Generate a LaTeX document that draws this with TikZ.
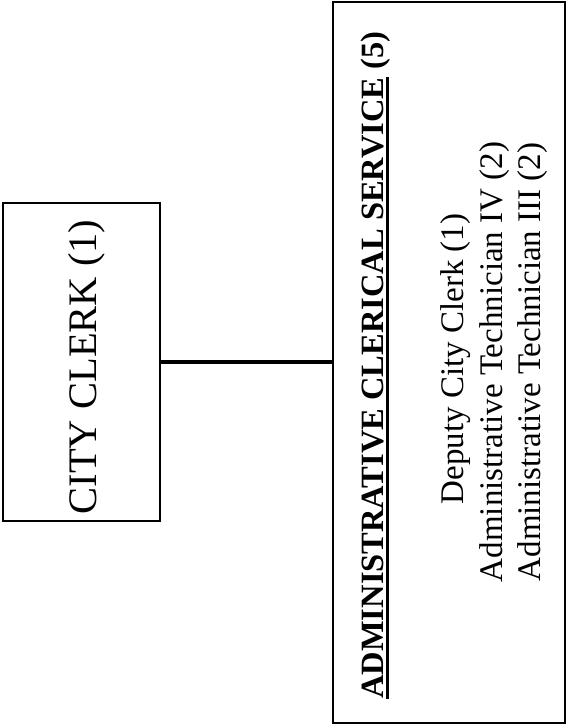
\documentclass[tikz,border=0pt]{standalone}
\usepackage{fontspec}
\setmainfont{Liberation Serif}
% heavy underline that sits a little below the baseline
\newcommand\heavyul[1]{\setbox0\hbox{#1}\rlap{\rule[-6pt]{\wd0}{2.8pt}}\box0\relax}
\tikzset{
  orgbox/.style={draw, line width=2.2pt, inner sep=0pt},
  vtext/.style={rotate=90, anchor=base, inner sep=0pt},
  link/.style={line width=3.6pt}
}
\begin{document}
\begin{tikzpicture}[x=1pt,y=1pt]
\useasboundingbox (0,0) rectangle (567,726);

% boxes
\node[orgbox, minimum width=157pt, minimum height=318pt] (clerk) at (81.5,364) {};
\node[orgbox, minimum width=232pt, minimum height=721pt] (service) at (449,363.5) {};

% box texts, read from bottom to top
\node[vtext, font=\fontsize{40.5}{46}\selectfont] (clerktext) at (96,359) {CITY CLERK (1)};
\node[vtext, font=\bfseries\fontsize{32.5}{37}\selectfont] (servicetitle) at (383,361)
  {\heavyul{ADMINISTRATIVE CLERICAL SERVICE} (5)};
\node[vtext, font=\fontsize{33}{38}\selectfont] (pos1) at (463,367) {Deputy City Clerk (1)};
\node[vtext, font=\fontsize{33}{38}\selectfont] (pos2) at (502,364) {Administrative Technician IV (2)};
\node[vtext, font=\fontsize{33}{38}\selectfont] (pos3) at (540,364) {Administrative Technician III (2)};

% connector
\draw[link] (clerk.east) -- (clerk.east -| service.west);
\end{tikzpicture}
\end{document}
